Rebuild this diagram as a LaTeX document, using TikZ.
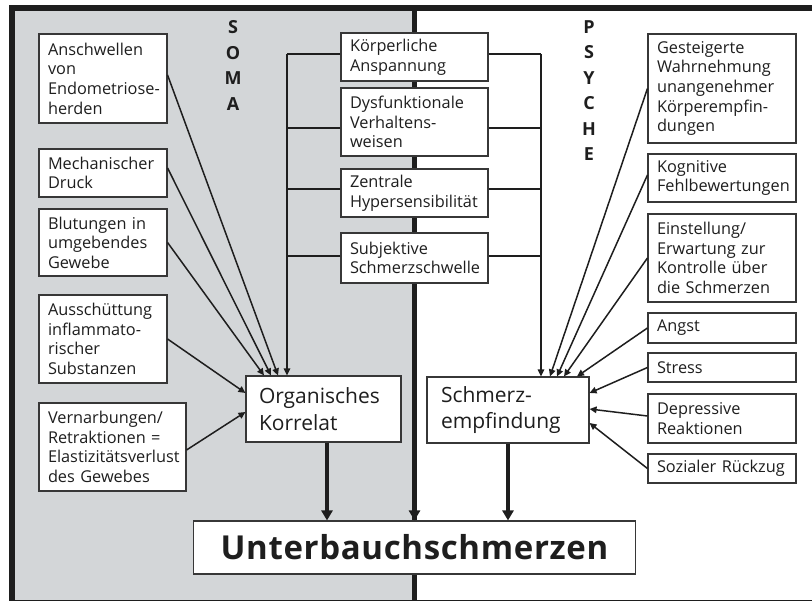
\documentclass[tikz,border=0pt]{standalone}
\usepackage{fontspec}
\setmainfont{Open Sans}
\usetikzlibrary{arrows.meta}
\definecolor{somagray}{RGB}{211,214,216}
\definecolor{ink}{RGB}{30,30,30}
\definecolor{edge}{RGB}{55,55,55}
\hyphenpenalty=10000\relax
\exhyphenpenalty=10000\relax
\begin{document}
\begin{tikzpicture}[x=1pt,y=-1pt,
  box/.style={draw=edge, line width=1.1pt, fill=white, align=left, inner xsep=9pt, inner ysep=0pt, text=ink,
    font=\fontsize{16.3}{19.6}\selectfont},
  bigbox/.style={draw=edge, line width=1.1pt, fill=white, align=left, inner ysep=0pt, text=ink,
    font=\fontsize{21}{26.7}\selectfont},
  letter/.style={anchor=base, inner sep=0pt, text=ink, font=\bfseries\fontsize{18}{20}\selectfont},
  conn/.style={draw=ink, line width=1.5pt},
  arr/.style={draw=ink, line width=1.5pt, -{Triangle[length=7pt,width=6.5pt]}},
  tarr/.style={draw=ink, line width=4.5pt, -{Triangle[length=10pt,width=11pt]}}
]
\useasboundingbox (0,0) rectangle (812,601);
\fill[somagray] (11.5,8) rectangle (414.5,603);
\draw[ink, line width=6pt] (11.5,8) rectangle (830,603);
\coordinate (divtop) at (414.5,8);
\coordinate (divbot) at (414.5,603);
\coordinate (divarr) at (414.5,500);
\draw[ink, line width=5pt] (divtop) -- (divbot);

% SOMA / PSYCHE
\foreach \l [count=\i] in {S,O,M,A}
  \node[letter] (soma\i) at (233,{33.3+(\i-1)*25.8}) {\l};
\foreach \l [count=\i] in {P,S,Y,C,H,E}
  \node[letter] (psy\i) at (589,{33.3+(\i-1)*25.5}) {\l};

% left column
\node[box, text width=110pt, minimum height=89pt] (anschw) at (103,78.5) {Anschwellen\\von\\Endometriose-\\herden};
\node[box, text width=110pt, minimum height=48pt] (mech) at (103,173) {Mechanischer\\Druck};
\node[box, text width=110pt, minimum height=67pt] (blut) at (103,242.5) {Blutungen in\\umgebendes\\Gewebe};
\node[box, text width=110pt, minimum height=88pt] (aussch) at (103,339) {Ausschüttung\\inflammato-\\rischer\\Substanzen};
\node[box, text width=129pt, minimum height=88pt] (vern) at (112.5,447) {Vernarbungen/\\Retraktionen =\\Elastizitätsverlust\\des Gewebes};

% middle column
\node[box, text width=129pt, minimum height=48pt] (koerp) at (414.5,57) {Körperliche\\Anspannung};
\node[box, text width=129pt, minimum height=68pt] (dysf) at (414.5,122) {Dysfunktionale\\Verhaltens-\\weisen};
\node[box, text width=129pt, minimum height=48pt] (zentr) at (414.5,193) {Zentrale\\Hypersensibilität};
\node[box, text width=129pt, minimum height=50pt] (subj) at (414.5,258) {Subjektive\\Schmerzschwelle};

% central boxes
\node[bigbox, inner xsep=13pt, text width=129pt, minimum height=66pt] (organ) at (323.5,409) {Organisches\\Korrelat};
\node[bigbox, inner xsep=14pt, text width=134pt, minimum height=66pt] (schmerz) at (508,410) {Schmerz-\\empfindung};

% right column
\node[box, text width=130pt, minimum height=109pt] (gest) at (722,88.5) {Gesteigerte\\Wahrnehmung\\unangenehmer\\Körperempfin-\\dungen};
\node[box, text width=130pt, minimum height=48pt] (kogn) at (722,178) {Kognitive\\Fehlbewertungen};
\node[box, text width=130pt, minimum height=88pt] (einst) at (722,258) {Einstellung/\\Erwartung zur\\Kontrolle über\\die Schmerzen};
\node[box, text width=130pt, minimum height=30pt] (angst) at (722,328) {Angst};
\node[box, text width=130pt, minimum height=29pt] (stress) at (722,367.5) {Stress};
\node[box, text width=130pt, minimum height=49pt] (depr) at (722,418.5) {Depressive\\Reaktionen};
\node[box, text width=130pt, minimum height=29pt] (sozial) at (722,468.5) {Sozialer Rückzug};

% bottom box
\node[draw=edge, line width=1.1pt, fill=white, minimum width=442pt, minimum height=53pt, inner sep=0pt,
  text=ink, font=\bfseries\fontsize{33}{36}\selectfont\addfontfeature{LetterSpace=2}] (unter) at (414.5,547.5) {Unterbauchschmerzen};

% buses
\coordinate (bl1) at (287,54);
\coordinate (bl2) at (287,128);
\coordinate (bl3) at (287,189);
\coordinate (bl4) at (287,256);
\coordinate (br1) at (541,54);
\coordinate (br2) at (541,128);
\coordinate (br3) at (541,189);
\coordinate (br4) at (541,256);
\draw[conn] (koerp.west |- bl1) -- (bl1);
\draw[conn] (dysf.west |- bl2) -- (bl2);
\draw[conn] (zentr.west |- bl3) -- (bl3);
\draw[conn] (subj.west |- bl4) -- (bl4);
\draw[arr] (bl1) -- (organ.north -| bl1);
\draw[conn] (koerp.east |- br1) -- (br1);
\draw[conn] (dysf.east |- br2) -- (br2);
\draw[conn] (zentr.east |- br3) -- (br3);
\draw[conn] (subj.east |- br4) -- (br4);
\draw[arr] (br1) -- (schmerz.north -| br1);

% left arrows
\draw[arr] ([yshift=3.5pt]anschw.east) -- ([xshift=-45.5pt]organ.north);
\draw[arr] ([yshift=5pt]mech.east) -- ([xshift=-52.5pt]organ.north);
\draw[arr] (blut.east) -- ([xshift=-59.5pt]organ.north);
\draw[arr] (aussch.east) -- ([yshift=16pt]organ.west);
\draw[arr] ([yshift=-3pt]vern.east) -- ([yshift=-3pt]organ.west);

% right arrows
\draw[arr] (gest.west) -- ([xshift=42pt]schmerz.north);
\draw[arr] ([yshift=3pt]kogn.west) -- ([xshift=49pt]schmerz.north);
\draw[arr] (einst.west) -- ([xshift=56pt]schmerz.north);
\draw[arr] (angst.west) -- ([xshift=69pt]schmerz.north);
\draw[arr] (stress.west) -- ([yshift=17pt]schmerz.east);
\draw[arr] ([yshift=2.5pt]depr.west) -- ([yshift=1pt]schmerz.east);
\draw[arr] (sozial.west) -- ([yshift=-13pt]schmerz.east);

% thick arrows
\draw[tarr] ([xshift=3.5pt]organ.south) -- ([xshift=3.5pt]organ.south |- unter.north);
\draw[tarr] (schmerz.south) -- (schmerz.south |- unter.north);
\draw[tarr] (divarr) -- (unter.north);
\end{tikzpicture}
\end{document}
